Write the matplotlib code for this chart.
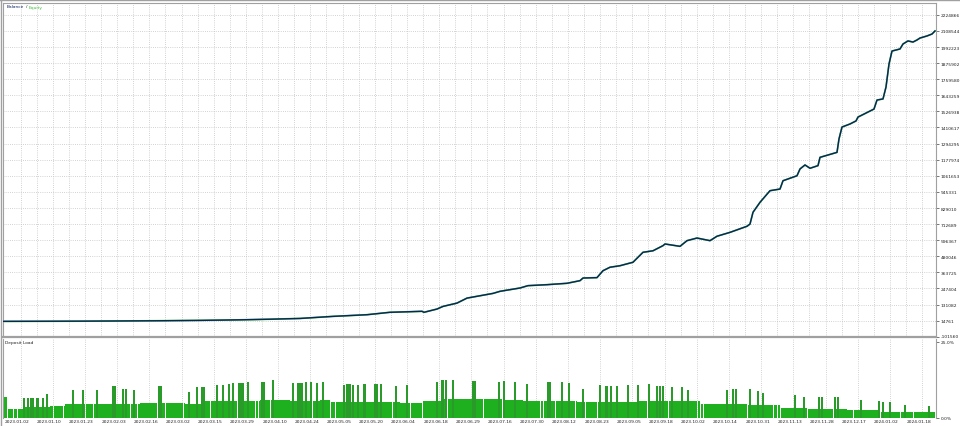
import numpy as np
import matplotlib
matplotlib.use("Agg")
import matplotlib.pyplot as plt
from matplotlib.transforms import ScaledTranslation

# ---------------- data ----------------
# balance curve (trade-sequence position, balance value)
bal_x = [3, 40, 80, 120, 160, 200, 240, 270, 300, 333, 367, 390, 410, 422, 424, 437, 443, 457, 467, 480,
         493, 500, 520, 528, 547, 567, 580, 583, 597, 603, 610, 620, 633, 643, 653, 663, 665, 680, 687, 697,
         710, 717, 730, 747, 750, 753, 760, 770, 780, 783, 797, 800, 805, 810, 818, 820, 837, 839, 842, 850,
         856, 858, 866, 874, 877, 883, 886, 889, 892, 900, 903, 908, 913, 917, 920, 927, 932, 935]
bal_v = [10000, 10600, 11400, 12800, 14500, 17000, 21000, 25500, 31000, 46000, 58000, 75500, 79800, 82700,
         75500, 99000, 118000, 142000, 178000, 195000, 212000, 227000, 251000, 268000, 275000, 285000, 304000,
         323000, 326000, 376000, 401000, 412000, 437000, 509000, 520000, 557000, 569000, 552000, 593000, 612000,
         593000, 625000, 653000, 697000, 713000, 798000, 870000, 954000, 966000, 1026000, 1062000, 1111000,
         1140000, 1116000, 1135000, 1195000, 1231000, 1328000, 1414000, 1436000, 1458000, 1486000, 1515000,
         1544000, 1609000, 1617000, 1703000, 1869000, 1963000, 1978000, 2014000, 2036000, 2028000, 2043000,
         2057000, 2072000, 2086000, 2108000]
equity_v = bal_v  # equity curve practically coincides with balance

y_tick_labels = ["-101560", "14761", "131082", "247404", "363725", "480046", "596367", "712689", "829010",
                 "945331", "1061653", "1177974", "1294295", "1410617", "1526938", "1643259", "1759580",
                 "1875902", "1992223", "2108544", "2224866"]

date_labels = ["2023.01.02", "2023.01.10", "2023.01.23", "2023.02.03", "2023.02.16", "2023.03.02",
               "2023.03.15", "2023.03.29", "2023.04.10", "2023.04.24", "2023.05.05", "2023.05.20",
               "2023.06.04", "2023.06.18", "2023.06.29", "2023.07.16", "2023.07.30", "2023.08.12",
               "2023.08.23", "2023.09.05", "2023.09.18", "2023.10.02", "2023.10.14", "2023.10.31",
               "2023.11.13", "2023.11.28", "2023.12.17", "2024.01.02", "2024.01.18"]

# deposit load: base level segments (start position, %)
load_seg_x = [3, 7, 23, 50, 65, 95, 140, 185, 205, 260, 290, 320, 330, 400, 423, 443, 503, 523, 577,
              637, 700, 747, 780, 807, 847, 880, 907]
load_seg_pct = [6.7, 3.1, 3.75, 3.9, 4.5, 4.7, 5.0, 4.5, 5.5, 5.9, 5.5, 5.8, 5.2, 5.0, 5.5, 6.1, 5.9, 5.5,
                5.2, 5.4, 4.7, 4.2, 3.4, 3.1, 2.7, 2.1, 1.8]
# deposit load spikes (position, %)
spike_x = [24, 28, 31, 33, 37, 38, 43, 47, 73, 83, 97, 113, 115, 123, 126, 134, 159, 161, 189, 197, 202,
           204, 217, 223, 229, 233, 239, 241, 243, 248, 262, 264, 273, 293, 298, 300, 302, 306, 311, 317,
           323, 344, 347, 349, 350, 353, 358, 364, 365, 375, 377, 381, 396, 407, 437, 442, 443, 446, 453,
           473, 475, 499, 504, 515, 527, 548, 550, 562, 569, 583, 600, 606, 607, 611, 617, 628, 638, 649,
           657, 660, 663, 672, 682, 688, 727, 733, 736, 750, 758, 763, 795, 804, 819, 822, 835, 838, 861,
           879, 883, 890, 905, 929]
spike_pct = [6.6, 6.6, 6.6, 6.6, 6.6, 6.6, 6.6, 7.7, 9.3, 9.3, 9.3, 10.4, 10.4, 9.5, 9.5, 9.3, 10.4, 10.4,
             8.6, 10.0, 10.2, 10.2, 10.7, 10.7, 11.2, 11.6, 11.4, 11.4, 11.6, 11.7, 11.7, 11.7, 12.3, 11.3,
             11.6, 11.6, 11.6, 11.9, 11.7, 11.6, 11.7, 10.9, 11.1, 11.1, 11.1, 10.7, 10.7, 11.1, 11.1, 11.1,
             11.1, 11.2, 10.6, 10.9, 11.7, 12.5, 12.5, 12.3, 12.3, 12.2, 12.2, 11.9, 12.2, 11.9, 11.1, 11.9,
             11.9, 11.9, 11.6, 9.6, 10.9, 10.4, 10.4, 10.4, 10.4, 10.9, 10.7, 11.1, 10.6, 10.6, 10.6, 10.0,
             10.0, 9.3, 9.0, 9.6, 9.6, 9.6, 8.8, 8.2, 7.5, 6.9, 6.8, 6.8, 6.9, 6.9, 5.9, 5.5, 5.2, 5.2, 4.3,
             3.9]
# positions with zero load (white gaps)
gap_x = [7, 13, 17, 53, 63, 85, 93, 130, 137, 157, 165, 183, 210, 237, 255, 258, 270, 312, 330, 335, 358,
         392, 410, 422, 447, 483, 502, 527, 540, 543, 555, 575, 585, 597, 647, 656, 668, 697, 700, 703, 747,
         773, 777, 780, 807, 833, 853, 880, 900, 913]

# ---------------- style ----------------
W, H = 960, 427
NAVY = "#0d2160"
GREEN_EQ = "#3cc03c"
GREEN_LOAD = "#1fb01f"
GREEN_SPIKE = "#2a9a2a"
GRID = "#c4c4c4"
SPINE = "#a0a0a0"
TXT = "#202020"
FS = 3.2

fig = plt.figure(figsize=(W / 100, H / 100), dpi=100)
fig.patch.set_facecolor("white")

def fx(px):
    return px / W

def fy(py):
    return 1 - py / H

X0, X1 = 3, 936
ax = fig.add_axes([fx(X0), fy(337.8), fx(X1 - X0), (337.8 - 3.5) / H])
ax2 = fig.add_axes([fx(X0), fy(419), fx(X1 - X0), (419 - 339.5) / H])

# ---------- main panel ----------
tick_vals = [float(s) for s in y_tick_labels]
step = (tick_vals[-1] - tick_vals[0]) / (len(tick_vals) - 1)
ax.set_xlim(X0, X1)
ax.set_ylim(tick_vals[0], tick_vals[0] + step * (337.8 - 3.5) / 16.1)

for v in tick_vals:
    ax.axhline(v, color=GRID, lw=0.6, ls=(0, (1, 1.6)), zorder=0)
for gx in np.arange(20.5, X1, 16.1):
    ax.axvline(gx, color=GRID, lw=0.6, ls=(0, (1, 1.6)), zorder=0)

ax.plot(bal_x, equity_v, color=GREEN_EQ, lw=1.25, zorder=2, solid_joinstyle="round")
ax.plot(bal_x, bal_v, color=NAVY, lw=1.0, zorder=3, solid_joinstyle="round")

ax.yaxis.tick_right()
ax.set_yticks(tick_vals)
ax.set_yticklabels(y_tick_labels)
ax.tick_params(axis="y", length=2, width=0.6, color="#606060", labelsize=FS, labelcolor=TXT, pad=1.5)
ax.set_xticks([])
for s in ax.spines.values():
    s.set_color(SPINE)
    s.set_linewidth(0.8)
ax.spines["bottom"].set_linewidth(1.6)
# lift the lowest label slightly so it does not collide with the lower panel's top label
lowest = ax.get_yticklabels()[0]
lowest.set_transform(lowest.get_transform() + ScaledTranslation(0, 1.6 / 100, fig.dpi_scale_trans))

ax.text(4 / (X1 - X0), 1 - 4 / 334.3, "Balance", transform=ax.transAxes, fontsize=FS,
        color=NAVY, ha="left", va="center")
ax.text(22.5 / (X1 - X0), 1 - 4 / 334.3, "/", transform=ax.transAxes, fontsize=FS,
        color=TXT, ha="left", va="center")
ax.text(26 / (X1 - X0), 1 - 4 / 334.3, "Equity", transform=ax.transAxes, fontsize=FS,
        color=GREEN_EQ, ha="left", va="center")

# ---------- deposit load panel ----------
xs = np.arange(X0, 935)
heights = np.zeros(len(xs))
for i, x in enumerate(xs):
    lvl = 0.0
    for sx, sp in zip(load_seg_x, load_seg_pct):
        if x >= sx:
            lvl = sp
    heights[i] = lvl
for gx in gap_x:
    heights[gx - X0] = 0.0

ax2.set_xlim(X0, X1)
ax2.set_ylim(0, 25 * 79.5 / 76.5)
for gx in np.arange(20.5, X1, 32.2):
    ax2.axvline(gx, color=GRID, lw=0.6, ls=(0, (1, 1.6)), zorder=0)
ax2.bar(xs, heights, width=1.0, color=GREEN_LOAD, linewidth=0, zorder=2, antialiased=False)
ax2.bar(spike_x, spike_pct, width=1.3, color=GREEN_SPIKE, linewidth=0, zorder=3)

ax2.yaxis.tick_right()
ax2.set_yticks([0, 25])
ax2.set_yticklabels(["0.0%", "25.0%"])
ax2.tick_params(axis="y", length=2, width=0.6, color="#606060", labelsize=FS, labelcolor=TXT, pad=1.5)
ax2.set_xticks(17 + 32.2 * np.arange(len(date_labels)))
ax2.set_xticklabels(date_labels)
ax2.tick_params(axis="x", length=0, labelsize=FS, labelcolor=TXT, pad=0.6)
for s in ax2.spines.values():
    s.set_color(SPINE)
    s.set_linewidth(0.8)
ax2.spines["top"].set_visible(False)
ax2.spines["bottom"].set_visible(False)

ax2.text(2 / (X1 - X0), 1 - 4 / 79.5, "Deposit Load", transform=ax2.transAxes, fontsize=FS,
         color=TXT, ha="left", va="center")

# outer frame lines
fig.add_artist(plt.Line2D([0, 1], [fy(0.8), fy(0.8)], color=SPINE, lw=1.0))
fig.add_artist(plt.Line2D([fx(0.8), fx(0.8)], [0, 1], color=SPINE, lw=1.0))

fig.savefig("out.png", dpi=100, facecolor="white")
